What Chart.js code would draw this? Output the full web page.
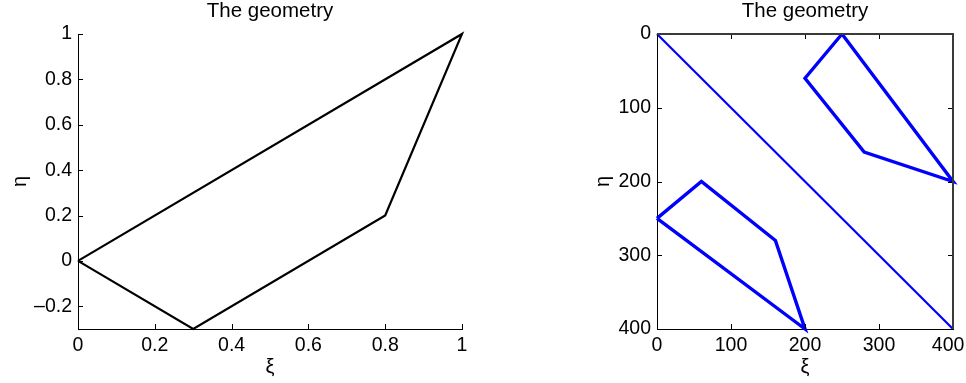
<!DOCTYPE html>
<html>
<head>
<meta charset="utf-8">
<script src="https://cdn.jsdelivr.net/npm/chart.js@4/dist/chart.umd.min.js"></script>
<style>
  body { margin: 0; background: #fff; }
  #wrap { position: relative; width: 966px; height: 383px; overflow: hidden; }
  canvas { position: absolute; top: 0; }
  #left { left: 0; }
  #right { left: 483px; }
</style>
</head>
<body>
<div id="wrap">
  <canvas id="left" width="483" height="383"></canvas>
  <canvas id="right" width="483" height="383"></canvas>
</div>
<script>
// left panel: reference element outline
const refXi = [0, 1, 0.8, 0.3, 0];
const refEta = [0, 1, 0.2, -0.3, 0];
const leftXTicks = [0, 0.2, 0.4, 0.6, 0.8, 1];
const leftXLabels = ['0', '0.2', '0.4', '0.6', '0.8', '1'];
const leftYTicks = [-0.2, 0, 0.2, 0.4, 0.6, 0.8, 1];
const leftYLabels = ['\u20130.2', '0', '0.2', '0.4', '0.6', '0.8', '1'];

// right panel: grid geometry (pixel indices)
const diagXi = [0, 400];
const diagEta = [0, 400];
const upperXi = [250, 200, 280, 400, 250];
const upperEta = [0, 60, 160, 200, 0];
const lowerXi = [0, 60, 160, 200, 0];
const lowerEta = [250, 200, 280, 400, 250];
const rightTicks = [0, 100, 200, 300, 400];
// last label padded so it stays inside the window
const rightXLabels = ['0', '100', '200', '300', '400\u2002'];
const rightYLabels = ['0', '100', '200', '300', '400'];

const panelTitle = 'The geometry';

Chart.defaults.font.family = '"Liberation Sans", Arial, sans-serif';
Chart.defaults.color = '#000';

const toPoints = (xs, ys) => xs.map((v, i) => ({ x: v, y: ys[i] }));

const line = (xs, ys, color, width) => ({
  data: toPoints(xs, ys),
  showLine: true,
  borderColor: color,
  borderWidth: width,
  pointRadius: 0,
  tension: 0,
  clip: false
});

// ticks pointing into the plot, optional box on top/right, title over the plot area
const innerTicks = {
  id: 'innerTicks',
  afterDatasetsDraw(chart, args, opts) {
    const { ctx, chartArea: a, scales: { x, y } } = chart;
    const len = 5;
    ctx.save();
    ctx.strokeStyle = '#000';
    ctx.lineWidth = 1;
    ctx.beginPath();
    x.ticks.forEach(t => {
      const px = Math.round(x.getPixelForValue(t.value)) + 0.5;
      ctx.moveTo(px, a.bottom);
      ctx.lineTo(px, a.bottom - len);
      if (opts.box) {
        ctx.moveTo(px, a.top);
        ctx.lineTo(px, a.top + len);
      }
    });
    y.ticks.forEach(t => {
      const py = Math.round(y.getPixelForValue(t.value)) + 0.5;
      ctx.moveTo(a.left, py);
      ctx.lineTo(a.left + len, py);
      if (opts.box) {
        ctx.moveTo(a.right, py);
        ctx.lineTo(a.right - len, py);
      }
    });
    ctx.stroke();
    if (opts.box) {
      ctx.strokeStyle = '#3a3a3a';
      ctx.lineWidth = 2;
      ctx.beginPath();
      ctx.moveTo(a.left, a.top);
      ctx.lineTo(a.right, a.top);
      ctx.lineTo(a.right, a.bottom);
      ctx.stroke();
    }
    ctx.fillStyle = '#000';
    ctx.font = '20.5px "Liberation Sans", Arial, sans-serif';
    ctx.textAlign = 'center';
    ctx.textBaseline = 'alphabetic';
    ctx.fillText(opts.title, (a.left + a.right) / 2, 17);
    ctx.restore();
  }
};

function axisX(min, max, ticks, labels, height, opts = {}) {
  return {
    type: 'linear',
    min: min,
    max: max,
    grid: { display: false, drawTicks: false },
    border: { display: true, color: '#000', width: 1 },
    afterBuildTicks: s => { s.ticks = ticks.map(v => ({ value: v })); },
    afterFit: s => { s.height = height; s.paddingLeft = 0; s.paddingRight = 0; },
    ticks: {
      padding: 5,
      maxRotation: 0,
      autoSkip: false,
      font: { size: 19.5 },
      callback: (v, i) => labels[i]
    },
    title: { display: true, text: '\u03be', font: { size: 20 }, padding: { top: 0, bottom: 4 } },
    ...opts
  };
}

function axisY(min, max, ticks, labels, width, titlePad, opts = {}) {
  return {
    type: 'linear',
    min: min,
    max: max,
    grid: { display: false, drawTicks: false },
    border: { display: true, color: '#000', width: 1 },
    afterBuildTicks: s => { s.ticks = ticks.map(v => ({ value: v })); },
    afterFit: s => { s.width = width; s.paddingTop = 0; s.paddingBottom = 0; },
    ticks: {
      padding: 6,
      autoSkip: false,
      font: { size: 19.5 },
      callback: (v, i) => labels[i]
    },
    title: { display: true, text: '\u03b7', font: { size: 20 }, padding: { top: titlePad, bottom: 0 } },
    ...opts
  };
}

new Chart(document.getElementById('left'), {
  type: 'scatter',
  data: { datasets: [line(refXi, refEta, '#000', 2.2)] },
  options: {
    responsive: false,
    animation: false,
    layout: { padding: { left: 0, right: 21, top: 34, bottom: 0 } },
    plugins: {
      legend: { display: false },
      tooltip: { enabled: false },
      innerTicks: { box: false, title: panelTitle }
    },
    scales: {
      x: axisX(0, 1, leftXTicks, leftXLabels, 54),
      y: axisY(-0.3, 1, leftYTicks, leftYLabels, 78, 8)
    }
  },
  plugins: [innerTicks]
});

new Chart(document.getElementById('right'), {
  type: 'scatter',
  data: {
    datasets: [
      line(diagXi, diagEta, '#0000ff', 2.2),
      line(upperXi, upperEta, '#0000ff', 3.4),
      line(lowerXi, lowerEta, '#0000ff', 3.4)
    ]
  },
  options: {
    responsive: false,
    animation: false,
    layout: { padding: { left: 0, right: 13, top: 34, bottom: 0 } },
    plugins: {
      legend: { display: false },
      tooltip: { enabled: false },
      innerTicks: { box: true, title: panelTitle }
    },
    scales: {
      x: axisX(0, 400, rightTicks, rightXLabels, 54),
      y: axisY(0, 400, rightTicks, rightYLabels, 174, 108, { reverse: true })
    }
  },
  plugins: [innerTicks]
});
</script>
</body>
</html>
